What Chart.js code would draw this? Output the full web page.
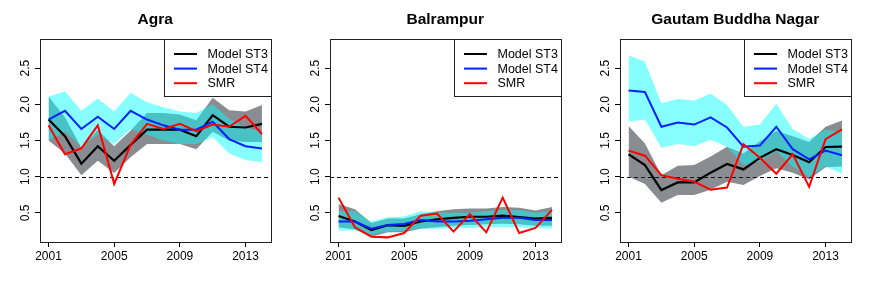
<!DOCTYPE html>
<html>
<head>
<meta charset="utf-8">
<script src="https://cdn.jsdelivr.net/npm/chart.js@4"></script>
<style>
  html, body { margin: 0; padding: 0; background: #fff; }
  #wrap { position: relative; width: 872px; height: 291px; }
  #wrap canvas { position: absolute; top: 0; }
</style>
</head>
<body>
<div id="wrap">
  <canvas id="p0" width="290" height="291" style="left:0px"></canvas>
  <canvas id="p1" width="290" height="291" style="left:290px"></canvas>
  <canvas id="p2" width="290" height="291" style="left:580px"></canvas>
</div>
<script>
const YEARS = [2001, 2002, 2003, 2004, 2005, 2006, 2007, 2008, 2009, 2010, 2011, 2012, 2013, 2014];
const X_TICKS = [2001, 2005, 2009, 2013];
const Y_TICKS = [0.5, 1.0, 1.5, 2.0, 2.5];
const REF_LINE = 1.0;
const SERIES_NAMES = ['Model ST3', 'Model ST4', 'SMR'];
const PANEL_TITLES = ['Agra', 'Balrampur', 'Gautam Buddha Nagar'];

// Agra
const agraST3   = [1.79, 1.56, 1.18, 1.42, 1.22, 1.44, 1.65, 1.65, 1.65, 1.56, 1.85, 1.69, 1.68, 1.73];
const agraST3Hi = [2.11, 1.82, 1.40, 1.65, 1.42, 1.64, 1.88, 1.88, 1.86, 1.78, 2.09, 1.92, 1.90, 1.99];
const agraST3Lo = [1.50, 1.32, 1.02, 1.22, 1.05, 1.27, 1.45, 1.45, 1.45, 1.38, 1.62, 1.50, 1.48, 1.48];
const agraST4   = [1.79, 1.91, 1.66, 1.83, 1.66, 1.91, 1.79, 1.71, 1.65, 1.65, 1.76, 1.52, 1.42, 1.39];
const agraST4Hi = [2.11, 2.18, 1.91, 2.08, 1.90, 2.16, 2.03, 1.96, 1.90, 1.88, 2.00, 1.80, 1.68, 1.62];
const agraST4Lo = [1.50, 1.62, 1.42, 1.58, 1.45, 1.66, 1.58, 1.50, 1.45, 1.45, 1.55, 1.32, 1.23, 1.20];
const agraSMR   = [1.71, 1.31, 1.39, 1.71, 0.90, 1.44, 1.73, 1.66, 1.73, 1.63, 1.72, 1.69, 1.84, 1.59];

// Balrampur
const balST3   = [0.455, 0.38, 0.26, 0.33, 0.32, 0.38, 0.41, 0.43, 0.445, 0.445, 0.46, 0.44, 0.42, 0.43];
const balST3Hi = [0.62, 0.55, 0.36, 0.42, 0.42, 0.48, 0.52, 0.55, 0.56, 0.56, 0.58, 0.57, 0.53, 0.58];
const balST3Lo = [0.30, 0.27, 0.17, 0.23, 0.23, 0.28, 0.30, 0.32, 0.33, 0.34, 0.35, 0.34, 0.32, 0.32];
const balST4   = [0.38, 0.38, 0.28, 0.33, 0.345, 0.40, 0.38, 0.38, 0.39, 0.41, 0.43, 0.43, 0.40, 0.40];
const balST4Hi = [0.52, 0.52, 0.38, 0.44, 0.45, 0.52, 0.50, 0.50, 0.50, 0.52, 0.54, 0.54, 0.50, 0.52];
const balST4Lo = [0.25, 0.26, 0.20, 0.24, 0.25, 0.28, 0.28, 0.29, 0.29, 0.30, 0.30, 0.30, 0.29, 0.28];
const balSMR   = [0.71, 0.30, 0.17, 0.16, 0.22, 0.46, 0.49, 0.24, 0.48, 0.23, 0.71, 0.22, 0.29, 0.54];

// Gautam Buddha Nagar
const gbnST3   = [1.31, 1.16, 0.815, 0.92, 0.92, 1.055, 1.175, 1.10, 1.26, 1.38, 1.30, 1.20, 1.41, 1.415];
const gbnST3Hi = [1.70, 1.46, 1.02, 1.15, 1.16, 1.28, 1.415, 1.32, 1.49, 1.63, 1.56, 1.48, 1.69, 1.775];
const gbnST3Lo = [1.00, 0.90, 0.64, 0.745, 0.745, 0.82, 0.93, 0.885, 1.01, 1.115, 1.055, 0.96, 1.13, 1.14];
const gbnST4   = [2.19, 2.17, 1.69, 1.75, 1.72, 1.82, 1.68, 1.415, 1.43, 1.69, 1.38, 1.24, 1.36, 1.295];
const gbnST4Hi = [2.68, 2.59, 2.015, 2.075, 2.05, 2.15, 1.99, 1.69, 1.72, 2.01, 1.66, 1.52, 1.65, 1.62];
const gbnST4Lo = [1.76, 1.79, 1.40, 1.45, 1.42, 1.51, 1.415, 1.16, 1.21, 1.35, 1.14, 1.00, 1.14, 1.04];
const gbnSMR   = [1.36, 1.29, 1.02, 0.97, 0.93, 0.82, 0.85, 1.45, 1.26, 1.04, 1.31, 0.86, 1.52, 1.655];

const PANELS = [
  { st3: agraST3, st3Hi: agraST3Hi, st3Lo: agraST3Lo, st4: agraST4, st4Hi: agraST4Hi, st4Lo: agraST4Lo, smr: agraSMR },
  { st3: balST3, st3Hi: balST3Hi, st3Lo: balST3Lo, st4: balST4, st4Hi: balST4Hi, st4Lo: balST4Lo, smr: balSMR },
  { st3: gbnST3, st3Hi: gbnST3Hi, st3Lo: gbnST3Lo, st4: gbnST4, st4Hi: gbnST4Hi, st4Lo: gbnST4Lo, smr: gbnSMR },
];

const LINE_COLORS = ['#000000', '#0022ff', '#ff0000'];
const GREY_BAND = 'rgba(40,48,56,0.55)';
const CYAN_BAND = 'rgba(0,255,255,0.47)';
const FONT = '"Liberation Sans", Arial, Helvetica, sans-serif';

function pts(arr){
  return YEARS.map((yr, i) => ({ x: yr, y: arr[i] }));
}

function band(arr, color, fill, order){
  return {
    data: pts(arr), borderWidth: 0, pointRadius: 0, backgroundColor: color,
    fill: fill, order: order, tension: 0
  };
}

function line(arr, color, width, order){
  return {
    data: pts(arr), borderColor: color, borderWidth: width, pointRadius: 0,
    fill: false, order: order, tension: 0
  };
}

// box, rotated y labels, dashed reference line and the legend (R style)
const rStyle = {
  id: 'rStyle',
  beforeDatasetsDraw(chart){
    const { ctx, chartArea: a, scales } = chart;
    const y = Math.round(scales.y.getPixelForValue(REF_LINE)) + 0.5;
    ctx.save();
    ctx.strokeStyle = '#000';
    ctx.lineWidth = 1;
    ctx.setLineDash([4, 3]);
    ctx.beginPath();
    ctx.moveTo(a.left, y);
    ctx.lineTo(a.right, y);
    ctx.stroke();
    ctx.restore();
  },
  afterDraw(chart){
    const { ctx, chartArea: a, scales } = chart;
    ctx.save();
    ctx.strokeStyle = '#222';
    ctx.lineWidth = 1;
    ctx.strokeRect(Math.round(a.left) + 0.5, Math.round(a.top) + 0.5,
      Math.round(a.right - a.left), Math.round(a.bottom - a.top));

    ctx.fillStyle = '#000';
    ctx.font = '12px ' + FONT;
    ctx.textAlign = 'center';
    ctx.textBaseline = 'alphabetic';
    scales.y.ticks.forEach(t => {
      const py = scales.y.getPixelForValue(t.value);
      ctx.save();
      ctx.translate(a.left - 11.5, py);
      ctx.rotate(-Math.PI / 2);
      ctx.fillText(t.value.toFixed(1), 0, 0);
      ctx.restore();
    });

    // legend
    const lx = Math.round(a.right) - 107;
    const ly = Math.round(a.top);
    ctx.fillStyle = '#fff';
    ctx.fillRect(lx + 0.5, ly + 0.5, 107, 57);
    ctx.strokeStyle = '#222';
    ctx.strokeRect(lx + 0.5, ly + 0.5, 107, 57);
    ctx.font = '12.5px ' + FONT;
    ctx.textAlign = 'left';
    ctx.textBaseline = 'middle';
    SERIES_NAMES.forEach((name, i) => {
      const ry = ly + 15 + i * 14.6;
      ctx.strokeStyle = LINE_COLORS[i];
      ctx.lineWidth = 2;
      ctx.beginPath();
      ctx.moveTo(lx + 10, ry);
      ctx.lineTo(lx + 33, ry);
      ctx.stroke();
      ctx.fillStyle = '#000';
      ctx.fillText(name, lx + 43.5, ry + 0.5);
    });
    ctx.restore();
  }
};

function makePanel(idx){
  const p = PANELS[idx];
  const ctx = document.getElementById('p' + idx);
  return new Chart(ctx, {
    type: 'line',
    data: {
      datasets: [
        band(p.st3Lo, GREY_BAND, false, 6),
        band(p.st3Hi, GREY_BAND, '-1', 6),
        band(p.st4Lo, CYAN_BAND, false, 5),
        band(p.st4Hi, CYAN_BAND, '-1', 5),
        line(p.st3, LINE_COLORS[0], 2.2, 2),
        line(p.st4, LINE_COLORS[1], 2, 1),
        line(p.smr, LINE_COLORS[2], 2, 0),
      ]
    },
    options: {
      responsive: false,
      animation: false,
      devicePixelRatio: 1,
      layout: { padding: { left: 0, right: 19.5, top: 0, bottom: 0 } },
      plugins: {
        legend: { display: false },
        tooltip: { enabled: false },
        title: {
          display: true, text: PANEL_TITLES[idx], fullSize: false, color: '#000',
          font: { family: FONT, size: 15.5, weight: 'bold', lineHeight: 1.2 },
          padding: { top: 10, bottom: 10.4 }
        }
      },
      scales: {
        x: {
          type: 'linear', min: 2000.48, max: 2014.52,
          afterBuildTicks: s => { s.ticks = X_TICKS.map(v => ({ value: v })); },
          afterFit: s => { s.height = 49; },
          grid: { drawOnChartArea: false, drawTicks: true, tickLength: 5, color: '#000' },
          border: { display: false },
          ticks: {
            autoSkip: false, maxRotation: 0, padding: 2, color: '#000',
            font: { family: FONT, size: 12 },
            callback: v => String(v)
          }
        },
        y: {
          type: 'linear', min: 0.096, max: 2.904,
          afterBuildTicks: s => { s.ticks = Y_TICKS.map(v => ({ value: v })); },
          afterFit: s => { s.width = 40; },
          grid: { drawOnChartArea: false, drawTicks: true, tickLength: 5, color: '#000' },
          border: { display: false },
          ticks: { display: false }
        }
      }
    },
    plugins: [rStyle]
  });
}

[0, 1, 2].forEach(makePanel);
</script>
</body>
</html>
